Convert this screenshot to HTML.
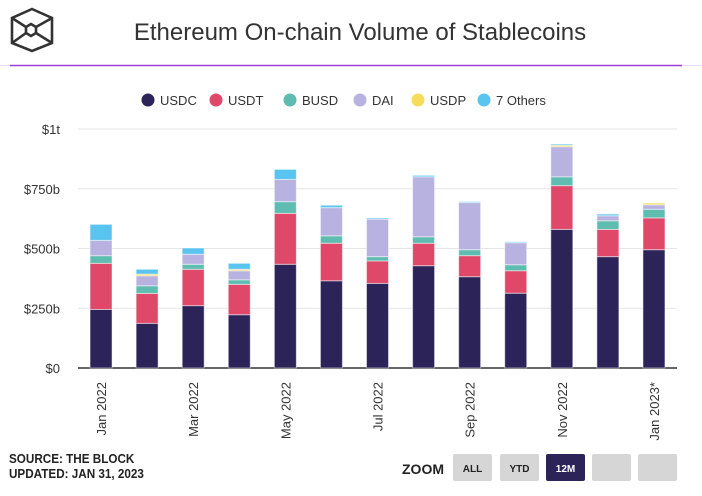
<!DOCTYPE html>
<html><head><meta charset="utf-8"><style>
body{margin:0;width:702px;height:491px;background:#fff;overflow:hidden;font-family:"Liberation Sans",sans-serif;}
</style></head><body>
<svg width="702" height="491" viewBox="0 0 702 491" xmlns="http://www.w3.org/2000/svg">
<g fill="none" stroke="#333" stroke-width="2.6">
<polygon points="32,9 52,18 52,43 32,51 12,43 12,18"/>
<polygon points="31,24 36,27 36,33 31,36 26,33 26,27"/>
<line x1="12" y1="18" x2="26" y2="27"/><line x1="52" y1="18" x2="36" y2="27"/>
<line x1="12" y1="43" x2="26" y2="33"/><line x1="52" y1="43" x2="36" y2="33"/>
</g>
<text x="360" y="40" text-anchor="middle" font-size="24" fill="#333">Ethereum On-chain Volume of Stablecoins</text>
<line x1="0" y1="65.5" x2="702" y2="65.5" stroke="#e6d8f6" stroke-width="1"/>
<line x1="10" y1="65.5" x2="682" y2="65.5" stroke="#9b3fd8" stroke-width="1.5"/>
<g id="legend"></g>
<g id="grid"></g>
<g id="bars"></g>
<g id="xlabels"></g>
<text x="10" y="463" font-size="13" font-weight="bold" fill="#222" transform="scale(0.9,1)">SOURCE: THE BLOCK</text>
<text x="10" y="478" font-size="13" font-weight="bold" fill="#222" transform="scale(0.9,1)">UPDATED: JAN 31, 2023</text>
<text x="402" y="474" font-size="14" font-weight="bold" fill="#222">ZOOM</text>
<g><rect x="453" y="454" width="39" height="27" rx="2" fill="#d6d6d6"/><text x="472.5" y="472" text-anchor="middle" font-size="10" font-weight="bold" fill="#222">ALL</text></g>
<g><rect x="500" y="454" width="39" height="27" rx="2" fill="#d6d6d6"/><text x="519.5" y="472" text-anchor="middle" font-size="10" font-weight="bold" fill="#222">YTD</text></g>
<g><rect x="546" y="454" width="39" height="27" rx="2" fill="#2c2459"/><text x="565.5" y="472" text-anchor="middle" font-size="10" font-weight="bold" fill="#fff">12M</text></g>
<rect x="592" y="454" width="39" height="27" rx="2" fill="#d6d6d6"/>
<rect x="638" y="454" width="39" height="27" rx="2" fill="#d6d6d6"/>
</svg>
<script>
const categories=["Jan 2022","Feb 2022","Mar 2022","Apr 2022","May 2022","Jun 2022","Jul 2022","Aug 2022","Sep 2022","Oct 2022","Nov 2022","Dec 2022","Jan 2023*"];
const seriesNames=["USDC","USDT","BUSD","DAI","USDP","7 Others"];
const usdc=[245,187,261,223,434,365,354,428,382,313,580,466,495];
const usdt=[193,125,152,127,213,157,94,94,88,94,183,114,133];
const busd=[32,32,21,19,49,31,18,27,25,25,37,36,36];
const dai=[64,42,42,38,93,118,157,251,197,92,126,21,19];
const usdp=[0,7,0,6,0,0,0,0,0,0,6,0,7];
const others=[67,20,26,25,42,10,5,6,4,4,5,7,0];
const yTicks=[0,250,500,750,1000];
const yTickLabels=["$0","$250b","$500b","$750b","$1t"];
const colors=["#2c2459","#df4868","#5fbcb0","#b8b2e0","#f5dc5b","#5ac4f0"];
const NS="http://www.w3.org/2000/svg";
const x0=78,x1=677,y0=368,y1=129,ymax=1000;
const band=(x1-x0)/categories.length;
const xc=i=>x0+band*(i+0.5);
const ys=v=>y0-(v/ymax)*(y0-y1);
function mk(t,a,p){const e=document.createElementNS(NS,t);for(const k in a)e.setAttribute(k,a[k]);p.appendChild(e);return e;}
const grid=document.getElementById('grid');
yTicks.forEach((v,i)=>{
 const l=mk('line',{x1:x0,x2:x1,y1:ys(v),y2:ys(v),stroke:i===0?'#666':'#e6e6e6','stroke-width':i===0?2:1},grid);
 
 
 const t=mk('text',{x:60,y:ys(v)+5,'text-anchor':'end','font-size':13,fill:'#333'},grid);
 t.textContent=yTickLabels[i];
 
 
});
const series=[usdc,usdt,busd,dai,usdp,others];
const bars=document.getElementById('bars');
categories.forEach((c,i)=>{
 let acc=0;
 series.forEach((s,k)=>{
  const v=s[i]; if(v<=0)return;
  const r=mk('rect',{x:xc(i)-11,y:ys(acc+v),width:22,height:ys(acc)-ys(acc+v),fill:colors[k],stroke:'rgba(255,255,255,0.5)','stroke-width':1},bars);
  
  
  acc+=v;
 });
});
const xl=document.getElementById('xlabels');
categories.forEach((c,i)=>{
 if(i%2)return;
 const t=mk('text',{x:0,y:0,'text-anchor':'end','font-size':13,fill:'#333',transform:`translate(${xc(i)+5},382) rotate(-90)`},xl);
 t.textContent=c;
 
 
});
const lg=document.getElementById('legend');
const lx=[148,216,290,360,418,484];
seriesNames.forEach((n,k)=>{
 const g=mk('g',{},lg);
 
 
 mk('circle',{cx:lx[k],cy:100,r:6.5,fill:colors[k]},g);
 const t=mk('text',{x:lx[k]+12,y:105,'font-size':13,fill:'#333'},g);
 t.textContent=n;
});
</script>
</body></html>
